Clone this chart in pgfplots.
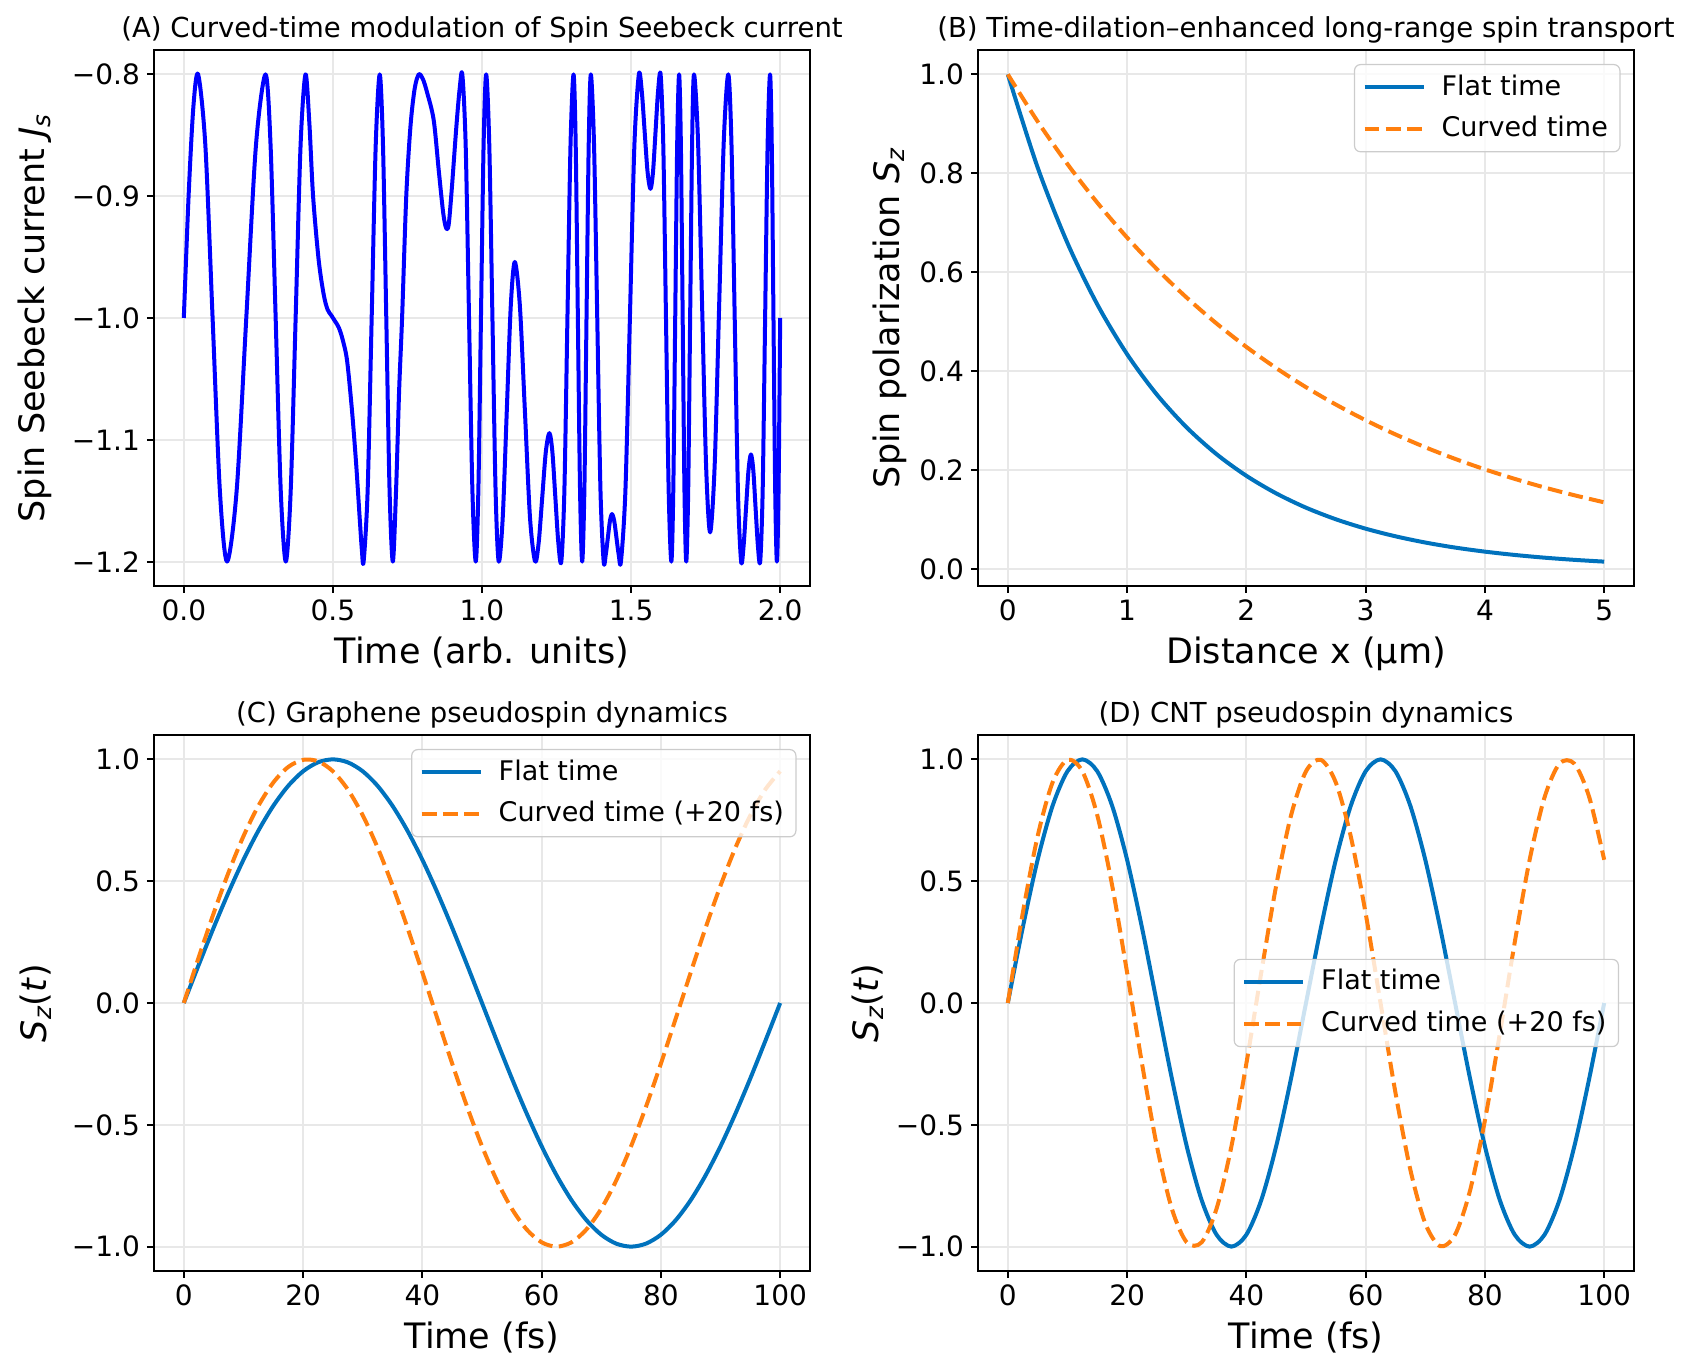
\documentclass[border=0pt]{standalone}
\usepackage{amsmath}
\usepackage{fontspec}
\setmainfont{DejaVu Sans}
\usepackage{pgfplots}
\pgfplotsset{compat=1.18}
\definecolor{pureblue}{RGB}{0,0,255}
\definecolor{flatblue}{RGB}{0,114,189}
\definecolor{curvorange}{RGB}{255,127,14}
\definecolor{gridgray}{RGB}{232,232,232}
\definecolor{legedge}{RGB}{204,204,204}
\pgfplotsset{
  panel/.style={
    scale only axis, width=328pt, height=268pt, anchor=south west,
    axis line style={black, line width=1.1pt},
    major tick style={black, line width=1.1pt},
    major tick length=3.5pt, tick align=outside,
    xtick pos=left, ytick pos=left,
    grid=major, major grid style={gridgray, line width=1pt},
    tick label style={font=\fontsize{14}{16}\selectfont},
    label style={font=\fontsize{17.5}{20}\selectfont},
    title style={font=\fontsize{13.75}{16}\selectfont, at={(axis description cs:0.5,1.001)}, anchor=base},
    xlabel style={at={(axis description cs:0.5,-0.1437)}, anchor=base},
    every axis plot/.append style={line width=2pt, line join=round},
    legend cell align=left,
    legend image code/.code={\draw[##1] (0pt,0pt) -- (29.5pt,0pt);},
    legend style={draw=legedge, line width=0.6pt, rounded corners=3pt, fill=white, fill opacity=0.8, draw opacity=1, text opacity=1, font=\fontsize{13.5}{16}\selectfont, inner xsep=4pt, inner ysep=3pt, row sep=4pt, column sep=6pt, nodes={inner xsep=2pt, inner ysep=2pt, text height=10.3pt, text depth=2.5pt}},
  },
}
\begin{document}
\begin{tikzpicture}
% ---------------- (A)
\begin{axis}[panel, at={(77pt,392pt)},
  xmin=-0.1, xmax=2.1, ymin=-1.22, ymax=-0.78,
  xtick={0,0.5,1,1.5,2}, xticklabels={0.0,0.5,1.0,1.5,2.0},
  ytick={-1.2,-1.1,-1.0,-0.9,-0.8}, yticklabels={−1.2,−1.1,−1.0,−0.9,−0.8},
  title={(A) Curved-time modulation of Spin Seebeck current},
  xlabel={Time (arb. units)},
  ylabel={Spin Seebeck current \textit{J}$_{\textit{s}}$},
  ylabel style={at={(axis description cs:-0.181,0.5)}, anchor=center},
]
\addplot[pureblue, smooth] coordinates {
(0,-1.0) (0.016,-0.9) (0.032,-0.8268) (0.048,-0.8)
(0.0723,-0.8586) (0.0965,-1.0) (0.1208,-1.1414) (0.145,-1.2)
(0.1773,-1.1414) (0.2095,-1.0) (0.2418,-0.8586) (0.274,-0.8)
(0.291,-0.8586) (0.308,-1.0) (0.325,-1.1414) (0.342,-1.2)
(0.3585,-1.1414) (0.375,-1.0) (0.3915,-0.8586) (0.408,-0.8)
(0.421,-0.84) (0.4335,-0.9) (0.4525,-0.953) (0.4693,-0.981) (0.482,-0.993) (0.495,-0.998) (0.508,-1.003) (0.52,-1.008) (0.533,-1.018) (0.5475,-1.035) (0.564,-1.076) (0.578,-1.12) (0.59,-1.165) (0.597,-1.19) (0.603,-1.2)
(0.6165,-1.1414) (0.63,-1.0) (0.6435,-0.8586) (0.657,-0.8)
(0.668,-0.8586) (0.679,-1.0) (0.69,-1.1414) (0.701,-1.2)
(0.712,-1.14) (0.722,-1.06) (0.732,-1.0) (0.746,-0.9) (0.76,-0.843) (0.774,-0.812) (0.788,-0.8) (0.802,-0.804) (0.816,-0.815) (0.838,-0.8375) (0.855,-0.879) (0.869,-0.912) (0.877,-0.924) (0.883,-0.927) (0.889,-0.922) (0.899,-0.893) (0.914,-0.843) (0.925,-0.812) (0.934,-0.8)
(0.9453,-0.8586) (0.9565,-1.0) (0.9678,-1.1414) (0.979,-1.2)
(0.9878,-1.1414) (0.9965,-1.0) (1.0053,-0.8586) (1.014,-0.8)
(1.0245,-0.8586) (1.035,-1.0) (1.0455,-1.1414) (1.056,-1.2)
(1.0695,-1.164) (1.083,-1.077) (1.0965,-0.990) (1.110,-0.954)
(1.127,-0.990) (1.144,-1.077) (1.161,-1.164) (1.178,-1.2)
(1.190,-1.1846) (1.202,-1.1473) (1.214,-1.1099) (1.226,-1.0945)
(1.236,-1.1099) (1.246,-1.1473) (1.256,-1.1846) (1.266,-1.2)
(1.2763,-1.1414) (1.2865,-1.0) (1.2968,-0.8586) (1.307,-0.8)
(1.3143,-0.8586) (1.3215,-1.0) (1.3288,-1.1414) (1.336,-1.2)
(1.3433,-1.1414) (1.3505,-1.0) (1.3578,-0.8586) (1.365,-0.8)
(1.3758,-0.8586) (1.3865,-1.0) (1.3973,-1.1414) (1.408,-1.2)
(1.415,-1.1943) (1.422,-1.1805) (1.429,-1.1667) (1.436,-1.161)
(1.4435,-1.1667) (1.451,-1.1805) (1.4585,-1.1943) (1.466,-1.2)
(1.481,-1.1414) (1.496,-1.0) (1.511,-0.8586) (1.526,-0.8)
(1.5358,-0.8138) (1.5455,-0.847) (1.5553,-0.8802) (1.565,-0.894)
(1.5735,-0.8802) (1.582,-0.847) (1.5905,-0.8138) (1.599,-0.8)
(1.608,-0.8586) (1.617,-1.0) (1.626,-1.1414) (1.635,-1.2)
(1.6415,-1.1414) (1.648,-1.0) (1.6545,-0.8586) (1.661,-0.8)
(1.667,-0.8586) (1.673,-1.0) (1.679,-1.1414) (1.685,-1.2)
(1.6915,-1.1414) (1.698,-1.0) (1.7045,-0.8586) (1.711,-0.8)
(1.7245,-0.855) (1.738,-0.988) (1.7515,-1.121) (1.765,-1.176)
(1.7803,-1.121) (1.7955,-0.988) (1.8108,-0.855) (1.826,-0.8)
(1.8368,-0.8586) (1.8475,-1.0) (1.8583,-1.1414) (1.869,-1.2)
(1.8773,-1.1871) (1.8855,-1.156) (1.8938,-1.1249) (1.902,-1.112)
(1.9098,-1.1249) (1.9175,-1.156) (1.9253,-1.1871) (1.933,-1.2)
(1.9413,-1.1414) (1.9495,-1.0) (1.9578,-0.8586) (1.966,-0.8)
(1.9718,-0.8586) (1.9775,-1.0) (1.9833,-1.1414) (1.989,-1.2)
(1.9945,-1.1414) (2.0,-1.0)
};
\end{axis}
% ---------------- (B)
\begin{axis}[panel, at={(489pt,392pt)},
  xmin=-0.25, xmax=5.25, ymin=-0.0337, ymax=1.0492,
  xtick={0,1,2,3,4,5}, xticklabels={0,1,2,3,4,5},
  ytick={0,0.2,0.4,0.6,0.8,1.0}, yticklabels={0.0,0.2,0.4,0.6,0.8,1.0},
  title={(B) Time-dilation–enhanced long-range spin transport},
  xlabel={Distance x (μm)},
  ylabel={Spin polarization \textit{S}$_{\textit{z}}$},
  ylabel style={at={(axis description cs:-0.135,0.5)}, anchor=center},
  legend style={at={(1,1)}, anchor=north east, xshift=-6.75pt, yshift=-7pt},
]
\addplot[flatblue, smooth] coordinates {
(0,1) (0.25,0.8119) (0.5,0.6592) (0.75,0.5353) (1,0.4346) (1.25,0.3529) (1.5,0.2865) (1.75,0.2326) (2,0.1889) (2.25,0.1534) (2.5,0.1245) (2.75,0.1011) (3,0.0821) (3.25,0.0667) (3.5,0.0541) (3.75,0.0439) (4,0.0357) (4.25,0.0290) (4.5,0.0235) (4.75,0.0191) (5,0.0155)
};
\addlegendentry{Flat time}
\addplot[curvorange, smooth, dash pattern=on 7.4pt off 3.2pt] coordinates {
(0,1) (0.25,0.9048) (0.5,0.8187) (0.75,0.7408) (1,0.6703) (1.25,0.6065) (1.5,0.5488) (1.75,0.4966) (2,0.4493) (2.25,0.4066) (2.5,0.3679) (2.75,0.3329) (3,0.3012) (3.25,0.2725) (3.5,0.2466) (3.75,0.2231) (4,0.2019) (4.25,0.1827) (4.5,0.1653) (4.75,0.1496) (5,0.1353)
};
\addlegendentry{Curved time}
\end{axis}
% ---------------- (C)
\begin{axis}[panel, at={(77pt,49.5pt)},
  xmin=-5, xmax=105, ymin=-1.1, ymax=1.1,
  xtick={0,20,40,60,80,100}, xticklabels={0,20,40,60,80,100},
  ytick={-1,-0.5,0,0.5,1}, yticklabels={−1.0,−0.5,0.0,0.5,1.0},
  title={(C) Graphene pseudospin dynamics},
  xlabel={Time (fs)},
  ylabel={\textit{S}$_{\textit{z}}$(\textit{t})},
  ylabel style={at={(axis description cs:-0.18,0.5)}, anchor=center},
  legend style={at={(1,1)}, anchor=north east, xshift=-6.75pt, yshift=-7pt},
]
\addplot[flatblue, smooth] coordinates {
(0,0) (2.5,0.1564) (5,0.3090) (7.5,0.4540) (10,0.5878) (12.5,0.7071) (15,0.8090) (17.5,0.8910) (20,0.9511) (22.5,0.9877) (25,1) (27.5,0.9877) (30,0.9511) (32.5,0.8910) (35,0.8090) (37.5,0.7071) (40,0.5878) (42.5,0.4540) (45,0.3090) (47.5,0.1564) (50,0) (52.5,-0.1564) (55,-0.3090) (57.5,-0.4540) (60,-0.5878) (62.5,-0.7071) (65,-0.8090) (67.5,-0.8910) (70,-0.9511) (72.5,-0.9877) (75,-1) (77.5,-0.9877) (80,-0.9511) (82.5,-0.8910) (85,-0.8090) (87.5,-0.7071) (90,-0.5878) (92.5,-0.4540) (95,-0.3090) (97.5,-0.1564) (100,0)
};
\addlegendentry{Flat time}
\addplot[curvorange, smooth, dash pattern=on 7.4pt off 3.2pt] coordinates {
(0,0) (2.5,0.1874) (5,0.3681) (7.5,0.5358) (10,0.6845) (12.5,0.8090) (15,0.9048) (17.5,0.9686) (20,0.9980) (22.5,0.9921) (25,0.9511) (27.5,0.8763) (30,0.7705) (32.5,0.6374) (35,0.4818) (37.5,0.3090) (40,0.1253) (42.5,-0.0628) (45,-0.2487) (47.5,-0.4258) (50,-0.5878) (52.5,-0.7290) (55,-0.8443) (57.5,-0.9298) (60,-0.9823) (62.5,-1.0) (65,-0.9823) (67.5,-0.9298) (70,-0.8443) (72.5,-0.7290) (75,-0.5878) (77.5,-0.4258) (80,-0.2487) (82.5,-0.0628) (85,0.1253) (87.5,0.3090) (90,0.4818) (92.5,0.6374) (95,0.7705) (97.5,0.8763) (100,0.9511)
};
\addlegendentry{Curved time (+20 fs)}
\end{axis}
% ---------------- (D)
\begin{axis}[panel, at={(489pt,49.5pt)},
  xmin=-5, xmax=105, ymin=-1.1, ymax=1.1,
  xtick={0,20,40,60,80,100}, xticklabels={0,20,40,60,80,100},
  ytick={-1,-0.5,0,0.5,1}, yticklabels={−1.0,−0.5,0.0,0.5,1.0},
  title={(D) CNT pseudospin dynamics},
  xlabel={Time (fs)},
  ylabel={\textit{S}$_{\textit{z}}$(\textit{t})},
  ylabel style={at={(axis description cs:-0.168,0.5)}, anchor=center},
  legend style={at={(1,0.5)}, anchor=east, xshift=-7.5pt},
]
\addplot[flatblue, smooth] coordinates {
(0,0) (2.5,0.3090) (5,0.5878) (7.5,0.8090) (10,0.9511) (12.5,1) (15,0.9511) (17.5,0.8090) (20,0.5878) (22.5,0.3090) (25,0) (27.5,-0.3090) (30,-0.5878) (32.5,-0.8090) (35,-0.9511) (37.5,-1) (40,-0.9511) (42.5,-0.8090) (45,-0.5878) (47.5,-0.3090) (50,0) (52.5,0.3090) (55,0.5878) (57.5,0.8090) (60,0.9511) (62.5,1) (65,0.9511) (67.5,0.8090) (70,0.5878) (72.5,0.3090) (75,0) (77.5,-0.3090) (80,-0.5878) (82.5,-0.8090) (85,-0.9511) (87.5,-1) (90,-0.9511) (92.5,-0.8090) (95,-0.5878) (97.5,-0.3090) (100,0)
};
\addlegendentry{Flat time}
\addplot[curvorange, smooth, dash pattern=on 7.4pt off 3.2pt] coordinates {
(0,0) (2.5,0.3681) (5,0.6845) (7.5,0.9048) (10,0.9980) (12.5,0.9511) (15,0.7705) (17.5,0.4818) (20,0.1253) (22.5,-0.2487) (25,-0.5878) (27.5,-0.8443) (30,-0.9823) (32.5,-0.9823) (35,-0.8443) (37.5,-0.5878) (40,-0.2487) (42.5,0.1253) (45,0.4818) (47.5,0.7705) (50,0.9511) (52.5,0.9980) (55,0.9048) (57.5,0.6845) (60,0.3681) (62.5,0) (65,-0.3681) (67.5,-0.6845) (70,-0.9048) (72.5,-0.9980) (75,-0.9511) (77.5,-0.7705) (80,-0.4818) (82.5,-0.1253) (85,0.2487) (87.5,0.5878) (90,0.8443) (92.5,0.9823) (95,0.9823) (97.5,0.8443) (100,0.5878)
};
\addlegendentry{Curved time (+20 fs)}
\end{axis}
\pgfresetboundingbox
\useasboundingbox (0,0) rectangle (841.5pt,685pt);
\end{tikzpicture}
\end{document}
